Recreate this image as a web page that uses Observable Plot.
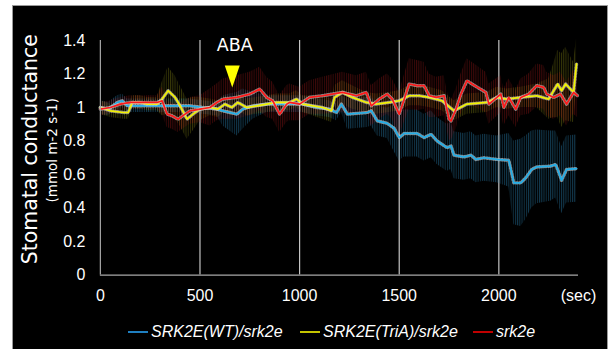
<!DOCTYPE html>
<html><head><meta charset="utf-8">
<script src="https://cdn.jsdelivr.net/npm/d3@7"></script>
<script src="https://cdn.jsdelivr.net/npm/@observablehq/plot@0.6"></script>
<style>
html,body{margin:0;padding:0;background:#fff;width:612px;height:349px;overflow:hidden;}
#panel{position:absolute;left:12px;top:5px;width:596px;height:344px;background:#000;overflow:hidden;border-top:1px solid #9a9a9a;border-left:1px solid #9a9a9a;border-right:1px solid #9a9a9a;box-sizing:border-box;}
#chart{position:absolute;left:-1px;top:-1px;}
#legend{position:absolute;left:-1px;top:309px;width:596px;height:34px;font-family:"Liberation Sans",Arial,sans-serif;font-style:italic;font-size:16px;color:#fff;}
.item{position:absolute;top:9px;height:16px;line-height:16px;display:flex;align-items:center;white-space:nowrap;}
.sw{display:inline-block;width:20px;height:2px;margin-right:3px;}
</style></head><body>
<svg width="0" height="0" style="position:absolute">
<defs>
<pattern id="stripeBlue" patternUnits="userSpaceOnUse" width="2.2" height="4"><rect width="1" height="4" fill="#2b86b8" fill-opacity="0.42"/></pattern>
<pattern id="stripeYellow" patternUnits="userSpaceOnUse" width="2.2" height="4"><rect width="1" height="4" fill="#a8a818" fill-opacity="0.32"/></pattern>
<pattern id="stripeRed" patternUnits="userSpaceOnUse" width="2.2" height="4"><rect width="1" height="4" fill="#a01818" fill-opacity="0.38"/></pattern>
</defs>
</svg>
<div id="panel"><div id="chart"></div><div id="legend"></div></div>
<script>
// ---- data ----
const seriesNames = ["SRK2E(WT)/srk2e", "SRK2E(TriA)/srk2e", "srk2e"];
const lineColors = ["#22aee8", "#f2f200", "#ff1a1a"];
const legendColors = ["#1f7fc0", "#c4c400", "#c00000"];

const wtTime = [0,40,85,110,135,185,285,385,450,515,585,615,650,685,715,765,835,900,950,1015,1085,1150,1185,1210,1240,1340,1360,1390,1440,1475,1500,1525,1590,1625,1660,1690,1740,1760,1775,1825,1860,1885,1925,1990,2050,2075,2110,2135,2165,2190,2260,2285,2295,2315,2340,2390];
const wtValue = [1.00,0.99,1.03,1.04,1.01,1.01,1.01,1.01,1.01,1.00,0.99,0.98,0.97,0.96,0.99,1.01,1.02,1.02,1.02,1.02,1.00,0.99,0.97,1.02,0.96,0.97,0.98,0.92,0.905,0.875,0.82,0.845,0.845,0.82,0.84,0.80,0.76,0.77,0.715,0.705,0.715,0.69,0.70,0.69,0.685,0.55,0.55,0.58,0.63,0.645,0.65,0.66,0.63,0.565,0.63,0.635];
const wtErr = [0.04,0.04,0.04,0.04,0.04,0.04,0.04,0.04,0.04,0.04,0.04,0.09,0.11,0.13,0.12,0.08,0.05,0.05,0.05,0.05,0.05,0.05,0.05,0.05,0.09,0.09,0.09,0.09,0.09,0.14,0.14,0.14,0.14,0.14,0.14,0.14,0.14,0.14,0.14,0.14,0.14,0.14,0.14,0.14,0.16,0.25,0.26,0.25,0.23,0.22,0.21,0.20,0.20,0.20,0.20,0.20];

const triaTime = [0,50,115,140,160,200,235,285,310,340,375,400,435,465,500,550,590,625,660,690,735,785,835,885,950,985,1015,1115,1160,1175,1215,1265,1335,1385,1450,1500,1550,1600,1650,1715,1775,1840,1940,1990,2040,2110,2190,2250,2275,2295,2315,2335,2375,2390];
const triaValue = [1.00,0.98,0.97,0.97,1.03,1.03,1.02,1.02,1.05,1.10,1.06,1.01,0.93,0.96,0.99,1.00,0.99,1.02,1.00,1.03,1.00,1.01,1.02,1.03,1.03,1.05,1.02,1.00,0.98,1.06,1.09,1.06,1.03,1.02,1.03,1.04,1.07,1.07,1.06,1.04,0.98,1.02,1.03,1.06,1.05,1.06,1.07,1.05,1.10,1.14,1.10,1.14,1.09,1.26];
const triaErr = [0.04,0.04,0.04,0.04,0.04,0.04,0.04,0.04,0.10,0.14,0.13,0.12,0.12,0.10,0.07,0.05,0.05,0.05,0.05,0.05,0.05,0.05,0.05,0.05,0.05,0.05,0.05,0.07,0.07,0.07,0.07,0.07,0.06,0.06,0.06,0.06,0.06,0.06,0.06,0.06,0.06,0.06,0.06,0.06,0.06,0.06,0.07,0.12,0.16,0.20,0.22,0.22,0.18,0.15];

const mutTime = [0,50,100,150,215,285,310,335,360,390,425,450,500,550,585,615,685,750,800,835,865,900,935,950,1000,1050,1115,1215,1285,1335,1360,1400,1440,1465,1500,1550,1590,1625,1650,1685,1725,1750,1760,1785,1810,1840,1865,1935,1950,2010,2025,2050,2085,2110,2150,2190,2225,2240,2275,2310,2340,2375,2395];
const mutValue = [0.99,1.00,1.02,1.03,1.03,1.03,1.04,0.96,0.95,0.93,0.96,0.98,0.99,1.00,1.03,1.05,1.06,1.08,1.11,1.06,1.04,0.96,1.02,1.03,1.02,1.06,1.07,1.09,1.07,1.09,1.01,1.05,1.08,1.05,0.96,1.14,1.13,1.13,1.07,1.06,1.07,0.93,0.92,0.99,1.08,1.16,1.14,1.09,1.02,1.08,1.00,1.06,0.99,1.06,1.08,1.13,1.12,1.08,1.06,1.08,1.02,1.09,1.07];
const mutErr = [0.04,0.04,0.04,0.04,0.04,0.04,0.08,0.08,0.08,0.08,0.08,0.08,0.08,0.11,0.11,0.12,0.13,0.13,0.13,0.12,0.11,0.11,0.11,0.11,0.10,0.10,0.11,0.12,0.12,0.12,0.12,0.12,0.12,0.12,0.13,0.15,0.15,0.14,0.13,0.12,0.12,0.12,0.12,0.12,0.12,0.13,0.13,0.12,0.12,0.11,0.11,0.11,0.11,0.11,0.12,0.13,0.13,0.13,0.13,0.13,0.13,0.13,0.13];

const xTicks = [0, 500, 1000, 1500, 2000, 2400];
const xTickLabels = ["0", "500", "1000", "1500", "2000", "(sec)"];
const gridTicks = [500, 1000, 1500, 2000];
const yTicks = [0, 0.2, 0.4, 0.6, 0.8, 1.0, 1.2, 1.4];
const yTickLabels = ["0", "0.2", "0.4", "0.6", "0.8", "1", "1.2", "1.4"];
const yTitle = "Stomatal conductance";
const yUnit = "(mmol m-2 s-1)";
const abaLabel = "ABA";
const abaTime = 662;
const abaMarkerY = 1.185;
const abaLabelY = 1.37;

// ---- build ----
const patterns = ["url(#stripeBlue)", "url(#stripeYellow)", "url(#stripeRed)"];
const raw = [[wtTime, wtValue, wtErr], [triaTime, triaValue, triaErr], [mutTime, mutValue, mutErr]];
const series = raw.map(([t, v, e], i) => t.map((tt, j) => ({t: tt, v: v[j], e: e[j], s: seriesNames[i]})));

const downTri = {draw(ctx) { ctx.moveTo(-7.5, -11); ctx.lineTo(7.5, -11); ctx.lineTo(0, 11); ctx.closePath(); }};

const marks = [
  Plot.ruleX(gridTicks, {y1: 0, y2: 1.4, stroke: "#c4c4c4", strokeWidth: 1.2}),
  ...series.map((rows, i) => Plot.areaY(rows, {x: "t", y1: d => d.v - d.e, y2: d => d.v + d.e, fill: patterns[i]})),
  ...series.flatMap((rows, i) => [
    Plot.line(rows, {x: "t", y: "v", stroke: "#d8d8d8", strokeWidth: 3.4, strokeDasharray: "1 2", strokeOpacity: 0.6}),
    Plot.line(rows, {x: "t", y: "v", stroke: lineColors[i], strokeWidth: 1.7})
  ]),
  Plot.ruleX([0], {y1: 0, y2: 1.4, stroke: "#a8a8a8", strokeWidth: 1.2}),
  Plot.ruleY([0], {x1: 0, x2: 2400, stroke: "#a8a8a8", strokeWidth: 1.2}),
  Plot.axisX(xTicks, {tickSize: 0, tickPadding: 15, tickFormat: (d, i) => xTickLabels[i], fontSize: 16, label: null}),
  Plot.axisY(yTicks, {tickSize: 0, tickPadding: 15, tickFormat: (d, i) => yTickLabels[i], fontSize: 16, label: null}),
  Plot.dot([abaTime], {x: d => d, y: () => abaMarkerY, symbol: downTri, fill: "#ffff00", stroke: "none"}),
  Plot.text([abaLabel], {x: () => abaTime + 12, y: () => abaLabelY, text: d => d, fill: "#fff", fontSize: 17.5, fontFamily: "DejaVu Sans"}),
  Plot.text([yTitle], {frameAnchor: "left", textAnchor: "middle", text: d => d, rotate: -90, dx: -70, dy: -8.5, fill: "#fff", fontSize: 20.5, fontFamily: "DejaVu Sans"}),
  Plot.text([yUnit], {frameAnchor: "left", textAnchor: "middle", text: d => d, rotate: -90, dx: -48, dy: -7.5, fill: "#fff", fontSize: 13.5, fontFamily: "DejaVu Sans"})
];

const chart = Plot.plot({
  width: 596,
  height: 310,
  marginLeft: 88,
  marginRight: 29,
  marginTop: 35,
  marginBottom: 40,
  x: {domain: [0, 2400]},
  y: {domain: [0, 1.4]},
  style: {background: "#000", color: "#fff", fontFamily: "'Liberation Sans', Arial, sans-serif", fontSize: "16px", overflow: "visible"},
  marks
});
document.getElementById("chart").appendChild(chart);

// legend
const legend = document.getElementById("legend");
const legendLeft = [116, 288, 461];
seriesNames.forEach((name, i) => {
  const item = document.createElement("div");
  item.className = "item";
  item.style.left = legendLeft[i] + "px";
  const sw = document.createElement("span");
  sw.className = "sw";
  sw.style.background = legendColors[i];
  const tx = document.createElement("span");
  tx.textContent = name;
  item.appendChild(sw);
  item.appendChild(tx);
  legend.appendChild(item);
});
</script>
</body></html>
